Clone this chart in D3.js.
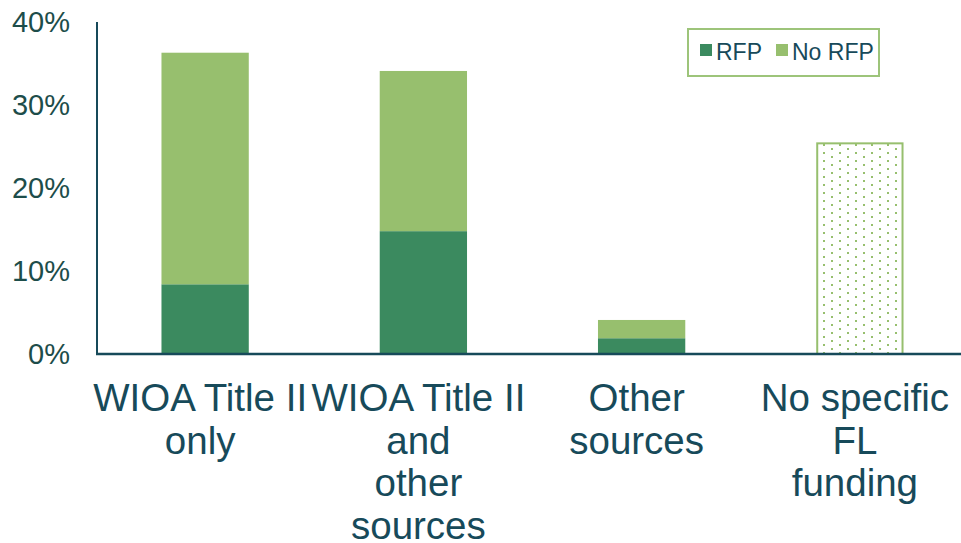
<!DOCTYPE html>
<html>
<head>
<meta charset="utf-8">
<script src="https://cdn.jsdelivr.net/npm/d3@7"></script>
<style>
    body { margin: 0; background: #fff; }
    svg { display: block; font-family: "Liberation Sans", Arial, sans-serif; }
</style>
</head>
<body>
<svg width="961" height="543"></svg>
<script>
var categories = [
    ["WIOA Title II", "only"],
    ["WIOA Title II", "and", "other", "sources"],
    ["Other", "sources"],
    ["No specific", "FL", "funding"]
];
var rfp = [8.4, 14.8, 1.9, 0];
var no_rfp = [27.9, 19.3, 2.2, 0];
var no_funding = [0, 0, 0, 25.5];
var y_ticks = [0, 10, 20, 30, 40];
var legend_labels = ["RFP", "No RFP"];

var dark_green = "#3b8a5f";
var light_green = "#97bf6e";
var text_color = "#174a5a";

var margin = { top: 22, right: 0, bottom: 189, left: 97 };
var width = 961 - margin.left - margin.right;
var height = 543 - margin.top - margin.bottom;

var svg = d3.select("svg");

// dotted fill for the "no funding" bar
var defs = svg.append("defs");
var pattern = defs.append("pattern")
    .attr("id", "dots")
    .attr("patternUnits", "userSpaceOnUse")
    .attr("x", 822)
    .attr("y", 146)
    .attr("width", 16)
    .attr("height", 8);
pattern.append("rect").attr("x", 0).attr("y", 0).attr("width", 2).attr("height", 2).attr("fill", light_green);
pattern.append("rect").attr("x", 8).attr("y", 4).attr("width", 2).attr("height", 2).attr("fill", light_green);

var g = svg.append("g")
    .attr("transform", "translate(" + margin.left + "," + margin.top + ")");

var x_scale = d3.scaleBand()
    .domain(d3.range(categories.length))
    .range([-1, width + 8])
    .paddingInner(0.6)
    .paddingOuter(0.3);

var y_scale = d3.scaleLinear()
    .domain([0, 40])
    .range([height, 0]);

// y tick labels
var y_axis = d3.axisLeft(y_scale)
    .tickValues(y_ticks)
    .tickSize(0)
    .tickPadding(27)
    .tickFormat(function(d) { return d + "%"; });

g.append("g")
    .attr("class", "y axis")
    .call(y_axis)
    .call(function(s) {
        s.select(".domain").remove();
        s.selectAll("text")
            .attr("fill", "#1d4d4a")
            .attr("font-size", 29)
            .attr("font-family", "Liberation Sans, Arial, sans-serif");
    });

// stacked bars
g.selectAll(".bar-rfp")
    .data(rfp)
    .enter().append("rect")
    .attr("class", "bar-rfp")
    .attr("x", function(d, i) { return x_scale(i); })
    .attr("width", x_scale.bandwidth())
    .attr("y", function(d) { return y_scale(d); })
    .attr("height", function(d) { return height - y_scale(d); })
    .attr("fill", dark_green);

g.selectAll(".bar-norfp")
    .data(no_rfp)
    .enter().append("rect")
    .attr("class", "bar-norfp")
    .attr("x", function(d, i) { return x_scale(i); })
    .attr("width", x_scale.bandwidth())
    .attr("y", function(d, i) { return y_scale(d + rfp[i]); })
    .attr("height", function(d) { return height - y_scale(d); })
    .attr("fill", light_green);

g.selectAll(".bar-none")
    .data(no_funding.map(function(v, i) { return { v: v, i: i }; }).filter(function(d) { return d.v > 0; }))
    .enter().append("rect")
    .attr("class", "bar-none")
    .attr("x", function(d) { return x_scale(d.i) + 1; })
    .attr("width", x_scale.bandwidth() - 2)
    .attr("y", function(d) { return y_scale(d.v) + 1; })
    .attr("height", function(d) { return height - y_scale(d.v) - 1; })
    .attr("fill", "url(#dots)")
    .attr("stroke", light_green)
    .attr("stroke-width", 2);

// axis lines
g.append("line")
    .attr("x1", 0).attr("x2", 0)
    .attr("y1", 0).attr("y2", height)
    .attr("stroke", text_color)
    .attr("stroke-width", 2);

g.append("line")
    .attr("x1", -1).attr("x2", width)
    .attr("y1", height).attr("y2", height)
    .attr("stroke", text_color)
    .attr("stroke-width", 2.5);

// category labels
var cat = g.selectAll(".cat")
    .data(categories)
    .enter().append("text")
    .attr("class", "cat")
    .attr("text-anchor", "middle")
    .attr("font-size", 38.5)
    .attr("fill", text_color)
    .attr("transform", function(d, i) {
        return "translate(" + (x_scale(i) + x_scale.bandwidth() / 2 - 5) + "," + (height + 57) + ")";
    });

cat.selectAll("tspan")
    .data(function(d) { return d; })
    .enter().append("tspan")
    .attr("x", 0)
    .attr("y", function(d, i) { return i * 42.5; })
    .text(function(d) { return d; });

// legend
var legend = svg.append("g").attr("class", "legend");

legend.append("rect")
    .attr("x", 688).attr("y", 29)
    .attr("width", 191).attr("height", 47)
    .attr("fill", "#fff")
    .attr("stroke", "#9dc47a")
    .attr("stroke-width", 2);

var legend_x = [700, 776];
var legend_colors = [dark_green, light_green];

var item = legend.selectAll(".item")
    .data(legend_labels)
    .enter().append("g")
    .attr("class", "item")
    .attr("transform", function(d, i) { return "translate(" + legend_x[i] + ",44)"; });

item.append("rect")
    .attr("width", 12).attr("height", 12)
    .attr("fill", function(d, i) { return legend_colors[i]; });

item.append("text")
    .attr("x", 16)
    .attr("y", 15.5)
    .attr("font-size", 23)
    .attr("fill", text_color)
    .text(function(d) { return d; });
</script>
</body>
</html>
